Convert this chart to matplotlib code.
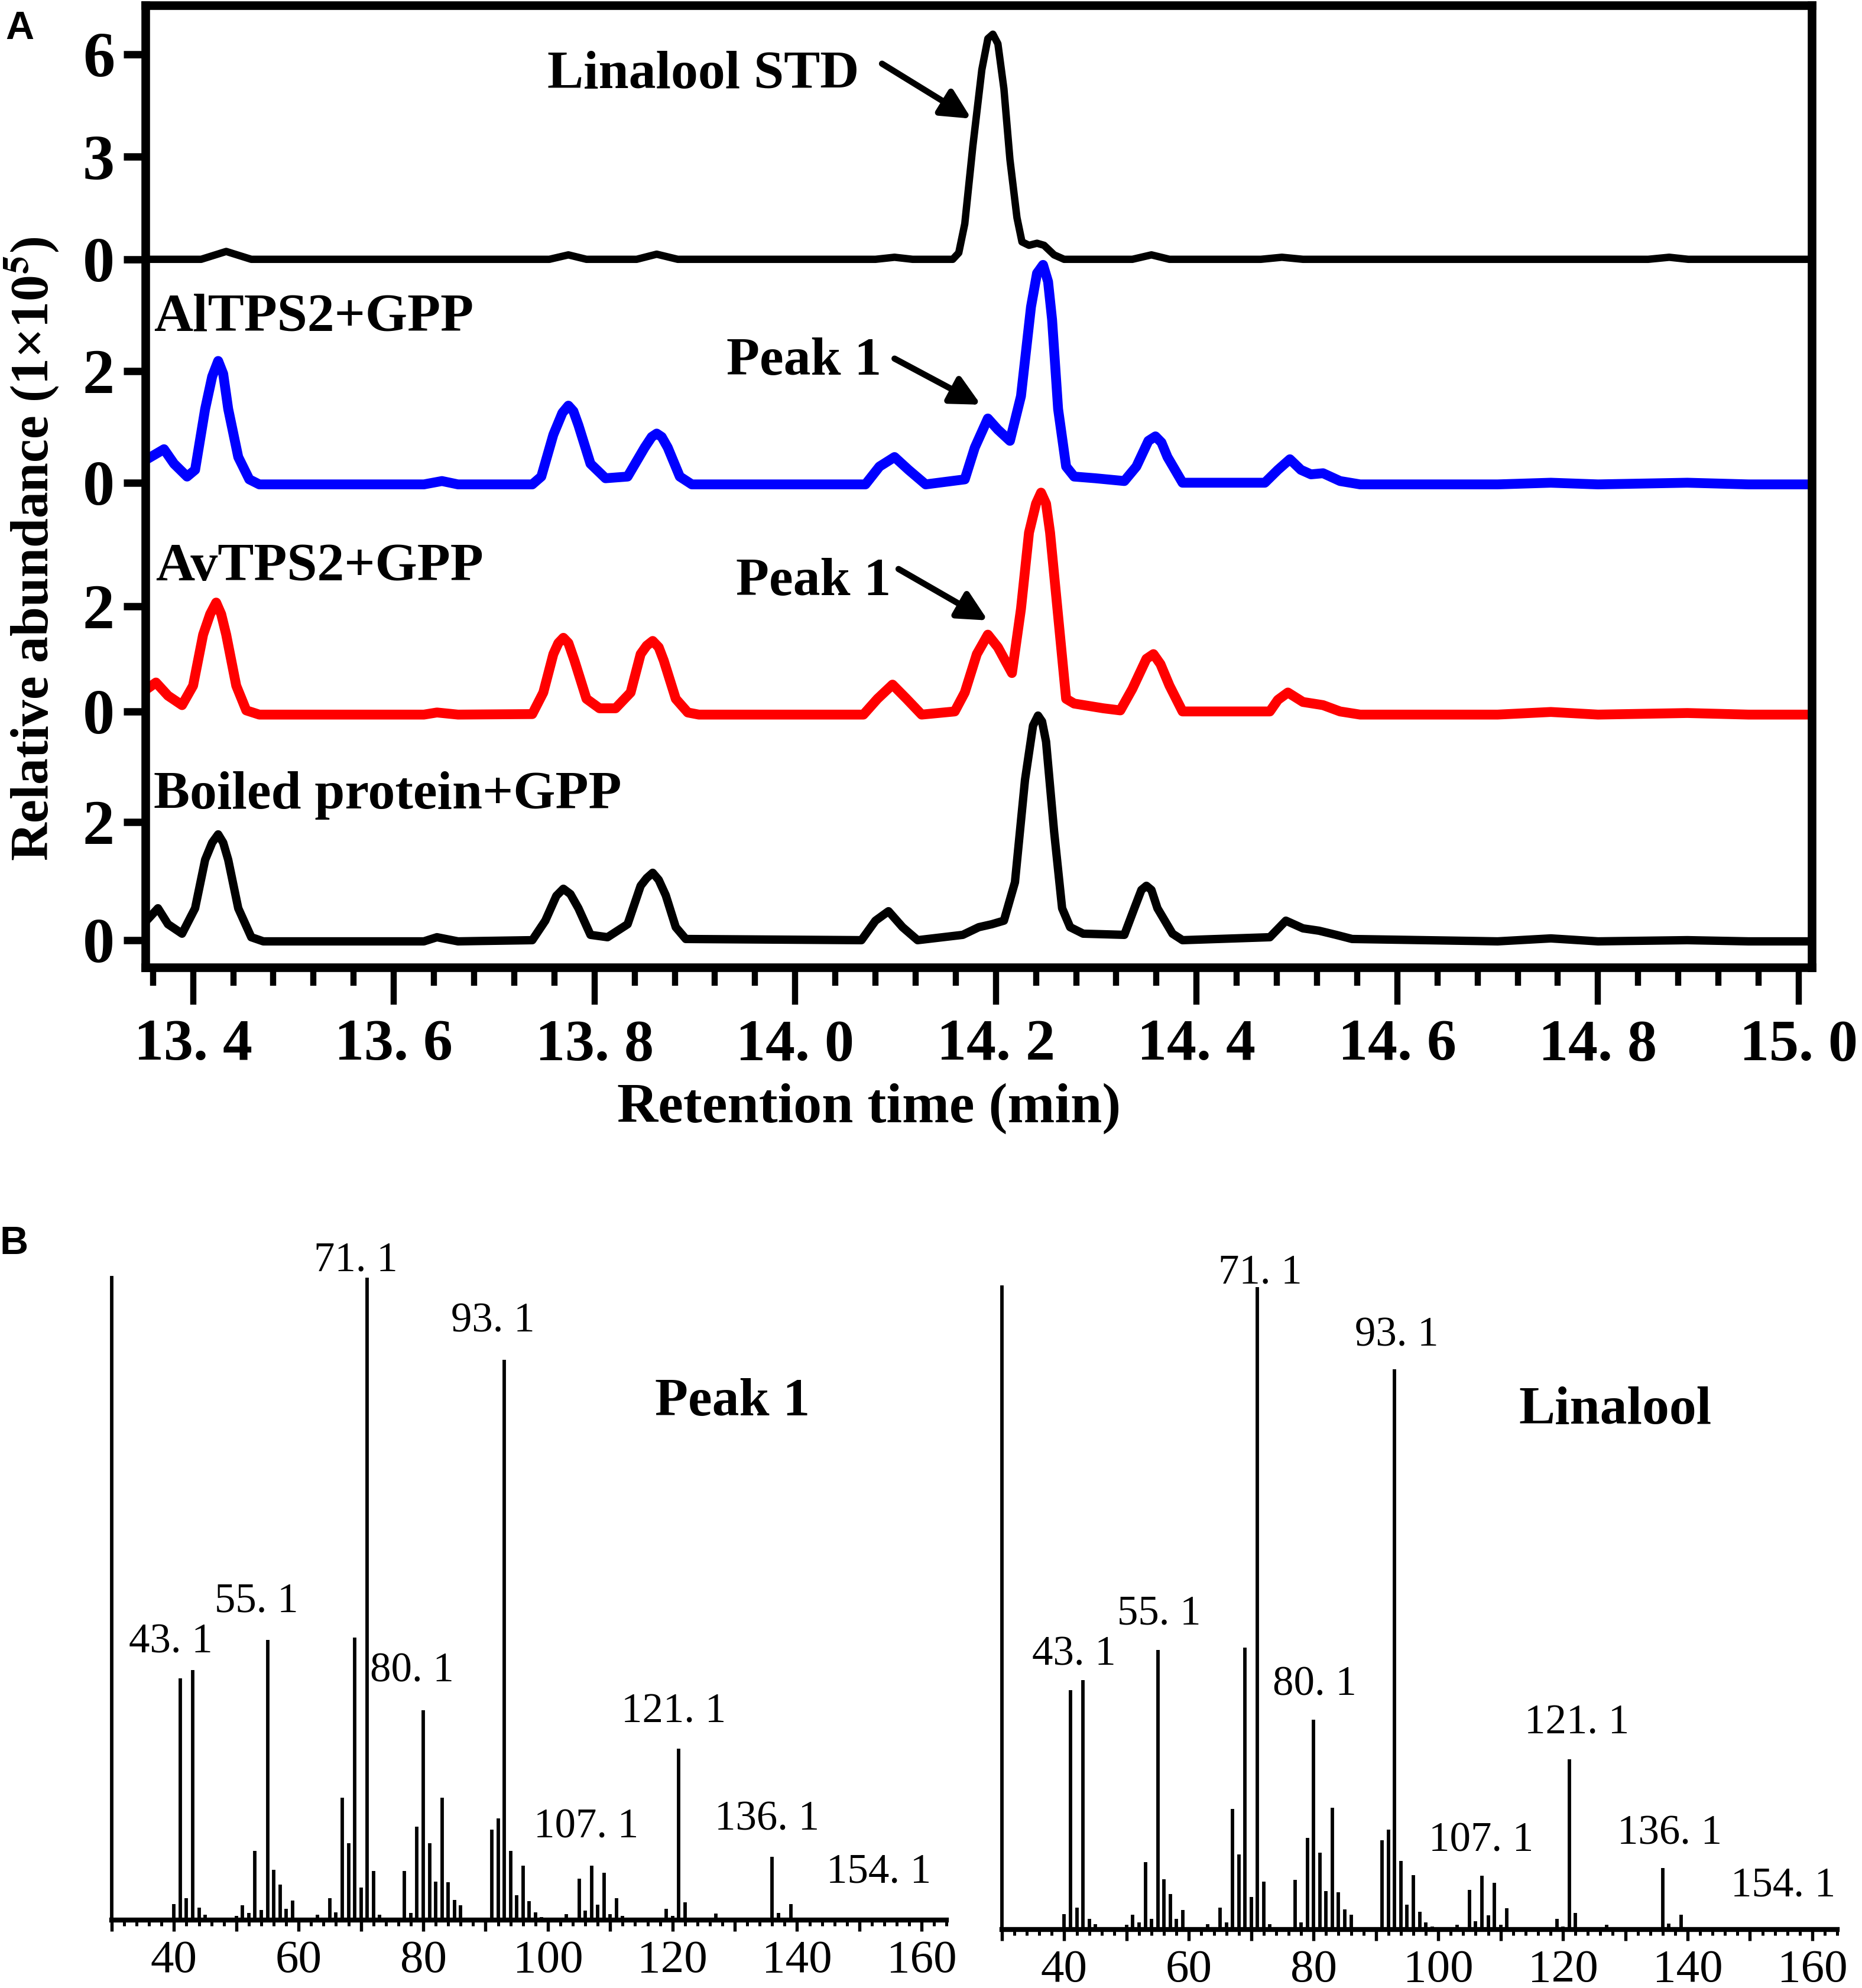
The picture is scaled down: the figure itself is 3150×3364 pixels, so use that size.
import matplotlib
matplotlib.use('Agg')
from matplotlib import pyplot as plt
from matplotlib.ticker import MultipleLocator, FuncFormatter

plt.rcParams['font.family'] = ['Liberation Serif', 'DejaVu Serif']
plt.rcParams['mathtext.fontset'] = 'stix'

# ---------------- panel A: chromatograms, (time min, abundance 1x10^5) ----------------
std_trace = [(13.352, 0.0), (13.408, 0.0), (13.433, 0.23), (13.458, 0.0), (13.755, 0.0),
             (13.774, 0.13), (13.792, 0.0), (13.842, 0.0), (13.862, 0.15), (13.883, 0.0),
             (14.080, 0.0), (14.099, 0.06), (14.117, 0.0), (14.157, 0.0), (14.163, 0.19),
             (14.169, 1.04), (14.177, 3.30), (14.186, 5.55), (14.192, 6.46), (14.197, 6.59),
             (14.202, 6.31), (14.208, 4.99), (14.214, 2.92), (14.221, 1.22), (14.226, 0.51),
             (14.233, 0.41), (14.241, 0.47), (14.248, 0.41), (14.258, 0.13), (14.268, 0.0),
             (14.336, 0.0), (14.355, 0.13), (14.373, 0.0), (14.464, 0.0), (14.485, 0.06),
             (14.506, 0.0), (14.850, 0.0), (14.871, 0.06), (14.890, 0.0), (15.013, 0.0)]

alt_trace = [(13.352, 0.40), (13.371, 0.60), (13.381, 0.34), (13.394, 0.11), (13.402, 0.23),
             (13.412, 1.32), (13.419, 1.90), (13.425, 2.18), (13.430, 1.95), (13.435, 1.32),
             (13.445, 0.46), (13.456, 0.06), (13.466, -0.03), (13.630, -0.03), (13.648, 0.03),
             (13.664, -0.03), (13.738, -0.03), (13.747, 0.11), (13.759, 0.86), (13.768, 1.25),
             (13.774, 1.38), (13.779, 1.28), (13.784, 1.03), (13.796, 0.34), (13.811, 0.08),
             (13.833, 0.11), (13.850, 0.63), (13.857, 0.82), (13.862, 0.88), (13.867, 0.82),
             (13.873, 0.63), (13.885, 0.11), (13.897, -0.03), (14.070, -0.03), (14.084, 0.29),
             (14.099, 0.46), (14.113, 0.23), (14.130, -0.03), (14.169, 0.06), (14.179, 0.63),
             (14.192, 1.15), (14.202, 0.95), (14.214, 0.75), (14.225, 1.55), (14.235, 3.15),
             (14.241, 3.75), (14.247, 3.90), (14.252, 3.60), (14.256, 2.92), (14.262, 1.32),
             (14.270, 0.29), (14.278, 0.11), (14.299, 0.08), (14.328, 0.03), (14.340, 0.29),
             (14.352, 0.75), (14.359, 0.83), (14.365, 0.72), (14.371, 0.46), (14.386, 0.0),
             (14.468, 0.0), (14.481, 0.23), (14.493, 0.42), (14.504, 0.23), (14.514, 0.15),
             (14.526, 0.17), (14.543, 0.03), (14.563, -0.03), (14.700, -0.03), (14.753, 0.0),
             (14.800, -0.03), (14.889, 0.0), (14.950, -0.03), (15.013, -0.03)]

avt_trace = [(13.352, 0.40), (13.363, 0.55), (13.375, 0.30), (13.389, 0.12), (13.400, 0.49),
             (13.410, 1.46), (13.417, 1.85), (13.423, 2.07), (13.428, 1.85), (13.433, 1.46),
             (13.443, 0.49), (13.453, 0.02), (13.466, -0.06), (13.630, -0.06), (13.643, -0.02),
             (13.664, -0.06), (13.738, -0.05), (13.749, 0.36), (13.759, 1.09), (13.764, 1.30),
             (13.769, 1.40), (13.774, 1.30), (13.780, 0.97), (13.792, 0.24), (13.805, 0.06),
             (13.821, 0.06), (13.836, 0.36), (13.846, 1.09), (13.852, 1.25), (13.858, 1.34),
             (13.864, 1.22), (13.869, 0.97), (13.881, 0.24), (13.893, -0.02), (13.904, -0.06),
             (14.068, -0.06), (14.082, 0.24), (14.097, 0.51), (14.111, 0.24), (14.126, -0.06),
             (14.159, 0.0), (14.169, 0.36), (14.181, 1.09), (14.192, 1.46), (14.202, 1.22),
             (14.216, 0.73), (14.225, 1.95), (14.233, 3.40), (14.240, 3.95), (14.245, 4.16),
             (14.250, 3.95), (14.254, 3.40), (14.262, 1.82), (14.270, 0.24), (14.278, 0.15),
             (14.307, 0.06), (14.324, 0.02), (14.336, 0.43), (14.350, 1.00), (14.357, 1.09),
             (14.364, 0.90), (14.373, 0.49), (14.386, 0.0), (14.473, 0.0), (14.481, 0.22),
             (14.491, 0.36), (14.506, 0.18), (14.526, 0.12), (14.543, 0.0), (14.563, -0.06),
             (14.700, -0.06), (14.753, -0.01), (14.800, -0.06), (14.889, -0.03), (14.950, -0.06),
             (15.013, -0.06)]

boil_trace = [(13.352, 0.30), (13.365, 0.54), (13.375, 0.27), (13.389, 0.11), (13.402, 0.54),
              (13.412, 1.36), (13.419, 1.65), (13.425, 1.79), (13.430, 1.65), (13.435, 1.36),
              (13.445, 0.54), (13.458, 0.05), (13.470, -0.02), (13.630, -0.02), (13.643, 0.05),
              (13.664, -0.02), (13.738, 0.0), (13.751, 0.33), (13.762, 0.75), (13.769, 0.87),
              (13.776, 0.78), (13.784, 0.54), (13.796, 0.09), (13.813, 0.05), (13.833, 0.27),
              (13.846, 0.92), (13.852, 1.05), (13.858, 1.14), (13.864, 1.02), (13.871, 0.76),
              (13.881, 0.22), (13.891, 0.02), (14.066, 0.0), (14.080, 0.33), (14.093, 0.49),
              (14.107, 0.22), (14.122, 0.0), (14.167, 0.09), (14.183, 0.22), (14.196, 0.27),
              (14.208, 0.33), (14.219, 0.98), (14.229, 2.71), (14.237, 3.63), (14.242, 3.80),
              (14.246, 3.70), (14.250, 3.36), (14.258, 1.84), (14.266, 0.54), (14.274, 0.22),
              (14.287, 0.11), (14.328, 0.09), (14.338, 0.54), (14.345, 0.85), (14.350, 0.92),
              (14.355, 0.85), (14.361, 0.54), (14.376, 0.11), (14.386, 0.0), (14.473, 0.05),
              (14.489, 0.33), (14.506, 0.20), (14.522, 0.16), (14.539, 0.09), (14.555, 0.02),
              (14.700, -0.02), (14.753, 0.03), (14.800, -0.02), (14.889, 0.0), (14.950, -0.02),
              (15.013, -0.02)]

sample_names = ['AlTPS2+GPP', 'AvTPS2+GPP', 'Boiled protein+GPP']
a_xticks = [13.4, 13.6, 13.8, 14.0, 14.2, 14.4, 14.6, 14.8, 15.0]
a_xticklabels = ['13. 4', '13. 6', '13. 8', '14. 0', '14. 2', '14. 4', '14. 6', '14. 8', '15. 0']

# ---------------- panel B: mass spectra (m/z, relative intensity %) ----------------
mz = [40, 41, 42, 43, 44, 45, 50, 51, 52, 53, 54, 55, 56, 57, 58, 59, 62, 63,
      65, 66, 67, 68, 69, 70, 71, 72, 73, 77, 78, 79, 80, 81, 82, 83, 84, 85, 86,
      91, 92, 93, 94, 95, 96, 97, 98, 99, 103, 105, 106, 107, 108, 109, 110, 111, 112,
      119, 120, 121, 122, 123, 125, 127, 136, 137, 139, 154]
peak1_int = [2.5, 37.6, 3.4, 38.9, 1.9, 0.8, 0.6, 2.3, 1.1, 10.8, 1.6, 43.6, 7.8, 5.5, 1.7, 3.0, 0.2, 0.8,
             3.4, 1.2, 19.0, 12.0, 44.0, 5.1, 100, 7.6, 0.8, 7.6, 1.1, 14.5, 32.7, 12.0, 6.0, 19.0, 5.9, 3.1, 2.3,
             14.1, 15.8, 87.2, 10.8, 3.9, 8.5, 2.9, 1.2, 0.5, 0.9, 6.4, 1.5, 8.5, 2.4, 7.4, 0.9, 3.4, 0.6,
             1.7, 0.6, 26.7, 2.8, 0.4, 0.4, 1.0, 9.8, 1.1, 2.5, 0.2]
linalool_int = [2.4, 37.3, 3.4, 38.8, 1.7, 0.8, 0.7, 2.3, 1.1, 10.5, 1.7, 43.5, 7.8, 5.5, 1.7, 3.0, 0.2, 0.8,
                3.4, 1.1, 18.8, 11.7, 43.9, 5.1, 100, 7.5, 0.8, 7.7, 1.1, 14.3, 32.7, 12.0, 6.0, 19.0, 5.8, 3.1, 2.3,
                13.9, 15.6, 87.2, 10.7, 3.9, 8.5, 2.8, 1.1, 0.5, 0.75, 6.2, 1.3, 8.4, 2.2, 7.3, 0.75, 3.3, 0.4,
                1.7, 0.5, 26.5, 2.6, 0.4, 0.4, 0.75, 9.6, 0.9, 2.3, 0.3]
ion_labels = ['43. 1', '55. 1', '71. 1', '80. 1', '93. 1', '107. 1', '121. 1', '136. 1', '154. 1']

# label placement (m/z, intensity of text baseline)
peak1_label_pos = [(39.5, 41.6), (53.2, 48.0), (69.2, 101.1), (78.2, 37.1), (91.2, 91.6),
                   (106.1, 12.8), (120.2, 30.8), (135.2, 14.0), (153.1, 5.8)]
linalool_label_pos = [(41.6, 41.2), (55.2, 47.5), (71.4, 100.6), (80.2, 36.5), (93.3, 90.9),
                      (106.9, 12.2), (122.2, 30.5), (137.1, 13.3), (155.3, 5.2)]


fig = plt.figure(figsize=(10.5, 3364 / 300))

# ---- panel A ----
axA = fig.add_axes([0.0781, 0.5134, 0.8949, 0.4840])
# (trace, baseline, scale, colour, linewidth, y ticks)
stack = [
    (std_trace, 1198, 57.8, 'black', 3.0, [0, 3, 6]),
    (alt_trace, 820, 94.5, '#0000ff', 4.0, [0, 2]),
    (avt_trace, 433, 89.0, '#ff0000', 4.0, [0, 2]),
    (boil_trace, 46, 100.0, 'black', 3.4, [0, 2]),
]
ytick_pos = []
ytick_lab = []
for trace, base, scale, col, lw, ticks in stack:
    t = [p[0] for p in trace]
    y = [base + scale * p[1] for p in trace]
    axA.plot(t, y, color=col, lw=lw, solid_joinstyle='round', solid_capstyle='round')
    for k in ticks:
        ytick_pos.append(base + scale * k)
        ytick_lab.append(str(k))

axA.set_xlim(13.3525, 15.013)
axA.set_ylim(0, 1628)
axA.set_yticks(ytick_pos)
axA.set_yticklabels(ytick_lab, fontsize=26, fontweight='bold')
axA.set_xticks(a_xticks)
axA.set_xticklabels(a_xticklabels, fontsize=24, fontweight='bold')
axA.xaxis.set_minor_locator(MultipleLocator(0.04))
axA.tick_params(axis='x', which='major', length=15, width=2.5, pad=6)
axA.tick_params(axis='x', which='minor', length=7.5, width=2.5)
axA.tick_params(axis='y', length=9, width=3, pad=3.5)
for sp in axA.spines.values():
    sp.set_linewidth(3.5)

# sample names
axA.text(13.3608, 1077, sample_names[0], fontsize=22, fontweight='bold', va='baseline')
axA.text(13.3626, 655, sample_names[1], fontsize=22, fontweight='bold', va='baseline')
axA.text(13.3608, 269, sample_names[2], fontsize=22, fontweight='bold', va='baseline')

arrow = dict(arrowstyle='-|>', color='black', lw=2.5, mutation_scale=25, shrinkA=0, shrinkB=0)
axA.text(13.9086, 1488, 'Linalool STD', fontsize=22, fontweight='bold', ha='center', va='baseline')
axA.annotate('', xy=(14.1755, 1436), xytext=(14.0865, 1529), arrowprops=arrow)
axA.text(14.009, 1003, 'Peak 1', fontsize=22, fontweight='bold', ha='center', va='baseline')
axA.annotate('', xy=(14.185, 952), xytext=(14.099, 1030), arrowprops=arrow)
axA.text(14.018, 630, 'Peak 1', fontsize=22, fontweight='bold', ha='center', va='baseline')
axA.annotate('', xy=(14.192, 587), xytext=(14.103, 674), arrowprops=arrow)

fig.text(54 / 3150, 1 - 929 / 3364, 'Relative abundance (1×10$^{\\mathbf{5}}$)',
         rotation=90, ha='center', va='center', fontsize=21.5, fontweight='bold')
fig.text(1470 / 3150, 1 - 1876 / 3364, 'Retention time (min)',
         ha='center', va='center', fontsize=23, fontweight='bold')

# ---- panel B ----
def spectrum(rect, inten, label_pos, name, name_pos):
    ax = fig.add_axes(rect)
    ax.vlines(mz, 0, inten, color='black', lw=1.4)
    ax.set_xlim(30, 164)
    ax.set_ylim(0, 100)
    ax.spines['top'].set_visible(False)
    ax.spines['right'].set_visible(False)
    ax.spines['left'].set_linewidth(1.4)
    ax.spines['bottom'].set_linewidth(2.0)
    ax.set_yticks([])
    ax.xaxis.set_major_locator(MultipleLocator(10))
    ax.xaxis.set_minor_locator(MultipleLocator(2))
    ax.xaxis.set_major_formatter(FuncFormatter(
        lambda v, p: '%d' % v if v >= 40 and round(v) % 20 == 0 else ''))
    ax.tick_params(axis='x', which='major', length=4.6, width=1.3, pad=3.5, labelsize=19)
    ax.tick_params(axis='x', which='minor', length=2.4, width=1.2)
    for lab, (x, y) in zip(ion_labels, label_pos):
        ax.text(x, y, lab, fontsize=17, ha='center', va='baseline', clip_on=False)
    ax.text(name_pos[0], name_pos[1], name, fontsize=22, fontweight='bold',
            ha='center', va='baseline')
    return ax

spectrum([0.0600, 0.0342, 0.4484, 0.3231], peak1_int, peak1_label_pos, 'Peak 1', (129.6, 78.6))
spectrum([0.5381, 0.0294, 0.4486, 0.3231], linalool_int, linalool_label_pos, 'Linalool', (128.4, 78.8))

fig.text(33 / 3150, 1 - 49 / 3364, 'A', family=['Liberation Sans', 'DejaVu Sans'],
         fontweight='bold', fontsize=16, ha='center', va='center')
fig.text(24 / 3150, 1 - 2105 / 3364, 'B', family=['Liberation Sans', 'DejaVu Sans'],
         fontweight='bold', fontsize=16, ha='center', va='center')

fig.savefig('out.png', dpi=300)
